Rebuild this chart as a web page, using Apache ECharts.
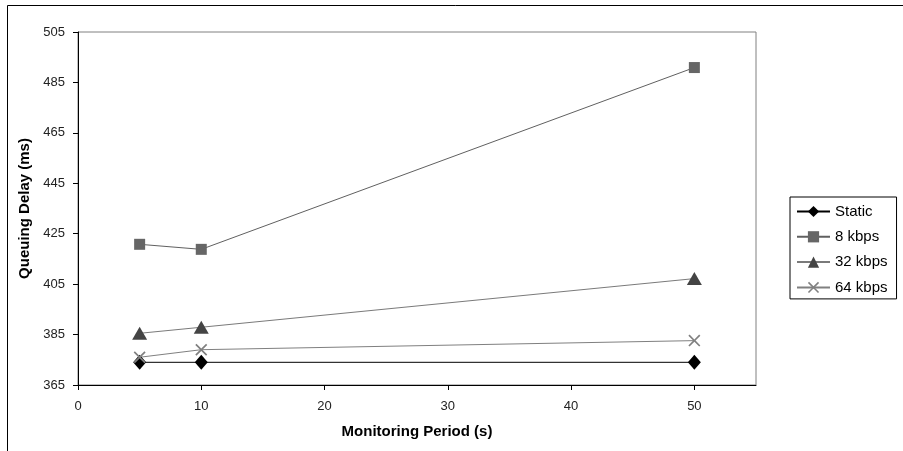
<!DOCTYPE html>
<html>
<head>
<meta charset="utf-8">
<script src="https://cdn.jsdelivr.net/npm/echarts@6/dist/echarts.min.js"></script>
<style>
html,body{margin:0;padding:0;background:#fff;}
#chart{width:903px;height:451px;}
</style>
</head>
<body>
<div id="chart"></div>
<script>
const periods = [5, 10, 50];
const seriesNames = ['Static', '8 kbps', '32 kbps', '64 kbps'];
const staticVals = [374, 374, 374];
const kbps8Vals = [420.8, 418.8, 490.9];
const kbps32Vals = [385.5, 387.9, 407.2];
const kbps64Vals = [376, 379, 382.6];
const yTicks = [365, 385, 405, 425, 445, 465, 485, 505];
const xTicks = [0, 10, 20, 30, 40, 50];

const crossPath = 'path://M0,1 L1,0 L5,4 L9,0 L10,1 L6,5 L10,9 L9,10 L5,6 L1,10 L0,9 L4,5 Z';

function pairs(vals){ return periods.map((p,i)=>[p, vals[i]]); }

const font = 'Liberation Sans, Arial, sans-serif';
const chart = echarts.init(document.getElementById('chart'));
chart.setOption({
  animation: false,
  backgroundColor: '#fff',
  graphic: [{
    type: 'rect', shape: {x: 7.5, y: 5.5, width: 920, height: 470},
    style: {fill: 'none', stroke: '#000', lineWidth: 1}, z: -1
  }],
  grid: {left: 78, top: 32, width: 678, height: 353, show: true, borderColor: '#808080', borderWidth: 1, backgroundColor: '#fff'},
  legend: {
    orient: 'vertical', left: 790, top: 197,
    padding: [7, 9, 4, 6], itemGap: 10.3, itemWidth: 33, itemHeight: 14,
    borderColor: '#000', borderWidth: 1, backgroundColor: '#fff',
    textStyle: {fontFamily: font, fontSize: 15, lineHeight: 14, color: '#000'},
    data: seriesNames
  },
  xAxis: {
    type: 'value', min: 0, max: 55, interval: 10,
    name: 'Monitoring Period (s)', nameLocation: 'middle', nameGap: 39,
    nameTextStyle: {fontFamily: font, fontSize: 15, fontWeight: 'bold', color: '#000'},
    axisLine: {show: true, lineStyle: {color: '#000'}},
    axisTick: {show: true, length: 5, lineStyle: {color: '#000'}, customValues: xTicks},
    axisLabel: {fontFamily: font, fontSize: 13, color: '#222', margin: 15, customValues: xTicks},
    splitLine: {show: false}
  },
  yAxis: {
    type: 'value', min: 365, max: 505, interval: 20,
    name: 'Queuing Delay (ms)', nameLocation: 'middle', nameGap: 43, nameRotate: 90,
    nameTextStyle: {fontFamily: font, fontSize: 15, fontWeight: 'bold', color: '#000'},
    axisLine: {show: true, lineStyle: {color: '#000'}},
    axisTick: {show: true, length: 5, lineStyle: {color: '#000'}},
    axisLabel: {fontFamily: font, fontSize: 13, color: '#222', margin: 13,
      formatter: v => yTicks.includes(v) ? String(v) : ''},
    splitLine: {show: false}
  },
  series: [
    {name: seriesNames[0], type: 'line', data: pairs(staticVals), symbol: 'diamond', symbolSize: [13, 15],
      lineStyle: {color: '#000', width: 1}, itemStyle: {color: '#000'}},
    {name: seriesNames[1], type: 'line', data: pairs(kbps8Vals), symbol: 'rect', symbolSize: 11,
      lineStyle: {color: '#606060', width: 1}, itemStyle: {color: '#666666'}},
    {name: seriesNames[2], type: 'line', data: pairs(kbps32Vals), symbol: 'triangle', symbolSize: [15, 13],
      lineStyle: {color: '#7a7a7a', width: 1}, itemStyle: {color: '#444444'}},
    {name: seriesNames[3], type: 'line', data: pairs(kbps64Vals), symbol: crossPath, symbolSize: 12,
      lineStyle: {color: '#808080', width: 1}, itemStyle: {color: '#808080'}}
  ]
});
</script>
</body>
</html>
